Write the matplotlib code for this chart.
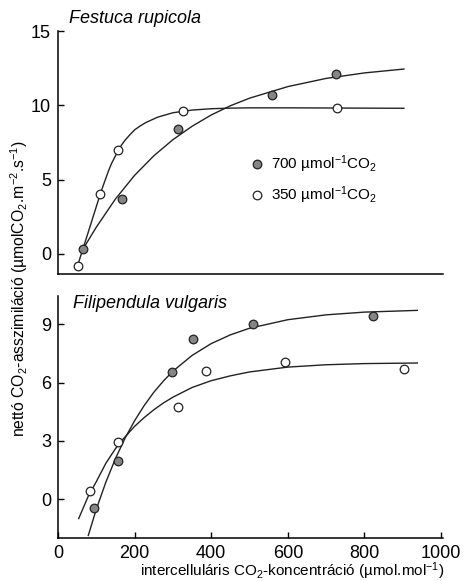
import matplotlib
matplotlib.use("Agg")
import matplotlib.pyplot as plt
from matplotlib.lines import Line2D

plt.rcParams['font.family'] = ['Liberation Sans', 'DejaVu Sans']
plt.rcParams['mathtext.fontset'] = 'custom'
plt.rcParams['mathtext.rm'] = 'Liberation Sans'
plt.rcParams['mathtext.it'] = 'Liberation Sans:italic'

# Festuca rupicola - measured points
fr_700_x = [66, 168, 312, 559, 726]
fr_700_y = [0.36, 3.7, 8.4, 10.7, 12.1]
fr_350_x = [51, 109, 157, 326, 729]
fr_350_y = [-0.8, 4.0, 7.0, 9.65, 9.8]
# Festuca rupicola - fitted curves
fr_700_cx = [66, 100, 150, 200, 250, 300, 350, 400, 450, 500, 600, 700, 800, 903]
fr_700_cy = [0.36, 1.80, 3.70, 5.29, 6.60, 7.69, 8.59, 9.35, 9.97, 10.48, 11.26, 11.81, 12.18, 12.44]
fr_350_cx = [51, 80, 110, 118, 125, 132, 140, 148, 156, 165, 175, 187, 200, 215, 230, 260, 300, 350, 400, 450, 500, 600, 700, 800, 903]
fr_350_cy = [-0.8, 1.55, 4.0, 4.6, 5.1, 5.6, 6.1, 6.5, 6.9, 7.3, 7.65, 8.0, 8.35, 8.62, 8.85, 9.2, 9.5, 9.68, 9.77, 9.81, 9.83, 9.83, 9.82, 9.81, 9.8]

# Filipendula vulgaris - measured points
fv_700_x = [94, 157, 298, 353, 508, 822]
fv_700_y = [-0.45, 1.95, 6.55, 8.23, 9.0, 9.45]
fv_350_x = [84, 157, 314, 387, 593, 903]
fv_350_y = [0.44, 2.96, 4.76, 6.6, 7.08, 6.69]
# Filipendula vulgaris - fitted curves
fv_700_cx = [79, 100, 125, 150, 175, 200, 225, 250, 275, 300, 350, 400, 450, 500, 600, 700, 800, 938]
fv_700_cy = [-1.87, -0.52, 0.88, 2.09, 3.14, 4.04, 4.82, 5.50, 6.08, 6.59, 7.40, 8.01, 8.46, 8.80, 9.24, 9.49, 9.63, 9.72]
fv_350_cx = [54, 80, 100, 125, 150, 168, 200, 225, 250, 275, 300, 350, 400, 450, 500, 600, 700, 800, 938]
fv_350_cy = [-1.0, 0.2, 0.9, 1.85, 2.6, 3.05, 3.75, 4.2, 4.6, 4.95, 5.25, 5.75, 6.1, 6.35, 6.55, 6.8, 6.92, 6.98, 7.01]

gray = '#858585'
ms = 6.2

fig = plt.figure(figsize=(4.67, 5.81), dpi=100)
ax1 = fig.add_axes([58 / 467, 1 - 274 / 581, 385 / 467, 243 / 581])
ax2 = fig.add_axes([58 / 467, 1 - 538 / 581, 385 / 467, 242 / 581])

for ax in (ax1, ax2):
    for s in ('top', 'right'):
        ax.spines[s].set_visible(False)
    for s in ('left', 'bottom'):
        ax.spines[s].set_linewidth(1.1)
    ax.set_xlim(0, 1005)
    ax.tick_params(direction='in', length=4, width=1.0, labelsize=13, pad=5)


def draw(ax, cx7, cy7, cx3, cy3, x7, y7, x3, y3):
    ax.plot(cx7, cy7, color='#222222', lw=1.0, zorder=2)
    ax.plot(cx3, cy3, color='#222222', lw=1.0, zorder=2)
    ax.plot(x7, y7, 'o', ms=ms, mfc=gray, mec='#222222', mew=0.9, zorder=3)
    ax.plot(x3, y3, 'o', ms=ms, mfc='white', mec='#222222', mew=0.9, zorder=3)


draw(ax1, fr_700_cx, fr_700_cy, fr_350_cx, fr_350_cy, fr_700_x, fr_700_y, fr_350_x, fr_350_y)
draw(ax2, fv_700_cx, fv_700_cy, fv_350_cx, fv_350_cy, fv_700_x, fv_700_y, fv_350_x, fv_350_y)

ax1.set_ylim(-1.35, 15)
ax1.set_yticks([0, 5, 10, 15])
ax1.set_xticks([])
ax2.set_ylim(-2, 10.46)
ax2.set_yticks([0, 3, 6, 9])
ax2.set_xticks([0, 200, 400, 600, 800, 1000])

fig.text(69 / 467, 1 - 23 / 581, 'Festuca rupicola', style='italic', fontsize=13, ha='left', va='baseline')
fig.text(73 / 467, 1 - 308 / 581, 'Filipendula vulgaris', style='italic', fontsize=13, ha='left', va='baseline')

handles = [
    Line2D([], [], ls='none', marker='o', ms=ms, mfc=gray, mec='#222222', mew=0.9),
    Line2D([], [], ls='none', marker='o', ms=ms, mfc='white', mec='#222222', mew=0.9),
]
labels = ['700 µmol$^{\\mathregular{-1}}$CO$_{\\mathregular{2}}$', '350 µmol$^{\\mathregular{-1}}$CO$_{\\mathregular{2}}$']
ax1.legend(handles, labels, loc='upper left', bbox_to_anchor=(0.485, 0.52), frameon=False,
           fontsize=11, handlelength=0.8, handletextpad=0.5, labelspacing=0.6, borderaxespad=0)

fig.text(19 / 467, 1 - 289 / 581,
         'nettó CO$_{\\mathregular{2}}$-asszimiláció (µmolCO$_{\\mathregular{2}}$.m$^{\\mathregular{-2}}$.s$^{\\mathregular{-1}}$)',
         rotation=90, fontsize=11.3, ha='center', va='center')
fig.text(292 / 467, 1 - 571 / 581,
         'intercelluláris CO$_{\\mathregular{2}}$-koncentráció (µmol.mol$^{\\mathregular{-1}}$)',
         fontsize=11, ha='center', va='center')

fig.savefig('out.png', dpi=100)
